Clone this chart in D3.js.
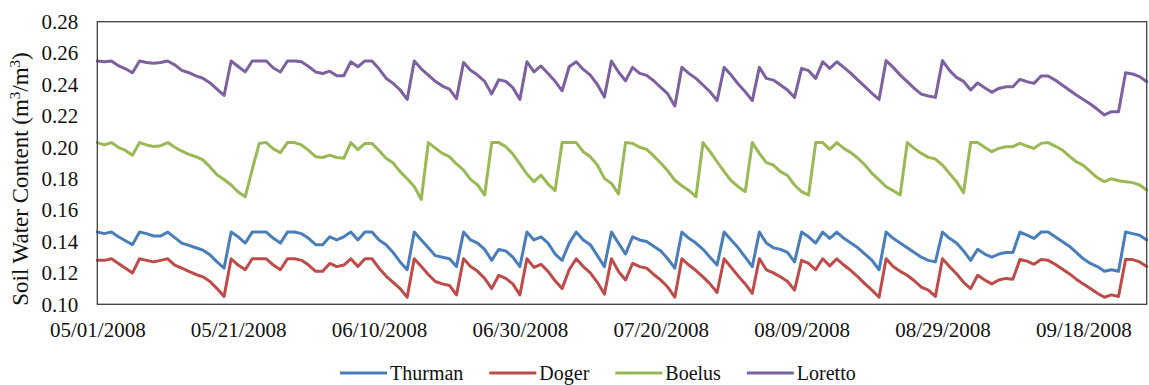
<!DOCTYPE html>
<html>
<head>
<meta charset="utf-8">
<script src="https://cdn.jsdelivr.net/npm/d3@7"></script>
<style>
  html, body { margin: 0; padding: 0; background: #fff; }
  svg { display: block; }
  svg text { font-family: "Liberation Serif", "Times New Roman", Times, Tinos, "DejaVu Serif", serif !important; fill: #111; }
</style>
</head>
<body>
<svg id="chart" width="1149" height="385"></svg>
<script>
// Daily soil water content, 05/01/2008 onward (one value per day)
const firstDay = "05/01/2008";
const xTickLabels = ["05/01/2008", "05/21/2008", "06/10/2008", "06/30/2008",
                     "07/20/2008", "08/09/2008", "08/29/2008", "09/18/2008"];
const yTickValues = [0.10, 0.12, 0.14, 0.16, 0.18, 0.20, 0.22, 0.24, 0.26, 0.28];
const yTitle = "Soil Water Content (m";
const seriesNames = ["Thurman", "Doger", "Boelus", "Loretto"];
const seriesColors = ["#4A7EBB", "#BE4B48", "#98B954", "#7D60A0"];

const thurman = [
  0.146, 0.145, 0.146, 0.143, 0.1405, 0.138, 0.146, 0.145, 0.1435, 0.1435,
  0.146, 0.1425, 0.139, 0.1375, 0.136, 0.1345, 0.1315, 0.127, 0.123, 0.146,
  0.143, 0.139, 0.146, 0.146, 0.146, 0.142, 0.139, 0.146, 0.146, 0.145,
  0.142, 0.138, 0.138, 0.143, 0.141, 0.143, 0.146, 0.141, 0.146, 0.146,
  0.141, 0.138, 0.133, 0.127, 0.122, 0.146, 0.141, 0.136, 0.131, 0.130,
  0.129, 0.124, 0.146, 0.141, 0.139, 0.135, 0.128, 0.135, 0.134, 0.130,
  0.124, 0.146, 0.141, 0.143, 0.139, 0.132, 0.128, 0.139, 0.146, 0.141,
  0.138, 0.131, 0.124, 0.146, 0.139, 0.132, 0.143, 0.141, 0.140, 0.137,
  0.134, 0.129, 0.123, 0.146, 0.142, 0.139, 0.135, 0.130, 0.125, 0.146,
  0.141, 0.136, 0.130, 0.124, 0.146, 0.139, 0.136, 0.135, 0.133, 0.127,
  0.146, 0.143, 0.139, 0.146, 0.142, 0.146, 0.142, 0.139, 0.136, 0.132,
  0.128, 0.122, 0.146, 0.142, 0.139, 0.136, 0.133, 0.130, 0.128, 0.127,
  0.146, 0.142, 0.139, 0.134, 0.128, 0.135, 0.132, 0.130, 0.132, 0.133,
  0.133, 0.146, 0.144, 0.142, 0.146, 0.146, 0.143, 0.140, 0.137, 0.133,
  0.129, 0.126, 0.124, 0.121, 0.122, 0.121, 0.146, 0.145, 0.144, 0.141
];

const doger = [
  0.128, 0.128, 0.129, 0.126, 0.123, 0.120, 0.129, 0.128, 0.127, 0.128,
  0.129, 0.125, 0.123, 0.121, 0.119, 0.1175, 0.1145, 0.110, 0.105, 0.129,
  0.125, 0.122, 0.129, 0.129, 0.129, 0.125, 0.122, 0.129, 0.129, 0.128,
  0.125, 0.121, 0.121, 0.126, 0.124, 0.125, 0.129, 0.124, 0.129, 0.129,
  0.123, 0.118, 0.114, 0.110, 0.1045, 0.129, 0.124, 0.119, 0.1145, 0.113,
  0.112, 0.106, 0.129, 0.124, 0.121, 0.1165, 0.110, 0.1185, 0.1165, 0.113,
  0.106, 0.129, 0.1235, 0.1255, 0.121, 0.115, 0.110, 0.122, 0.129, 0.124,
  0.120, 0.114, 0.1065, 0.129, 0.121, 0.1155, 0.126, 0.124, 0.123, 0.119,
  0.1155, 0.111, 0.1045, 0.129, 0.125, 0.1215, 0.1175, 0.113, 0.1075, 0.129,
  0.1235, 0.118, 0.113, 0.107, 0.129, 0.122, 0.120, 0.1175, 0.1145, 0.109,
  0.128, 0.126, 0.122, 0.129, 0.1245, 0.129, 0.125, 0.1215, 0.1175, 0.113,
  0.109, 0.1045, 0.129, 0.124, 0.121, 0.1185, 0.115, 0.111, 0.109, 0.105,
  0.129, 0.124, 0.1195, 0.114, 0.110, 0.1185, 0.1155, 0.113, 0.1155, 0.1165,
  0.116, 0.1285, 0.1275, 0.1255, 0.1285, 0.128, 0.1255, 0.1225, 0.1195, 0.116,
  0.113, 0.110, 0.107, 0.1045, 0.106, 0.105, 0.1285, 0.1285, 0.127, 0.124
];

const boelus = [
  0.203, 0.2015, 0.203, 0.200, 0.198, 0.195, 0.203, 0.2015, 0.2005, 0.201,
  0.203, 0.200, 0.1975, 0.1955, 0.194, 0.192, 0.1875, 0.1825, 0.1795, 0.176,
  0.1715, 0.1685, 0.186, 0.2025, 0.203, 0.199, 0.1966, 0.203, 0.203, 0.2015,
  0.198, 0.194, 0.1935, 0.195, 0.1935, 0.193, 0.203, 0.1985, 0.2025, 0.2025,
  0.198, 0.193, 0.190, 0.1845, 0.180, 0.175, 0.1668, 0.203, 0.1995, 0.1961,
  0.194, 0.1894, 0.1855, 0.1796, 0.176, 0.1696, 0.203, 0.203, 0.2004, 0.1957,
  0.1894, 0.183, 0.1781, 0.1823, 0.1766, 0.1724, 0.203, 0.203, 0.203, 0.1972,
  0.194, 0.1887, 0.1802, 0.177, 0.1703, 0.203, 0.2025, 0.200, 0.1987, 0.1945,
  0.190, 0.185, 0.179, 0.1755, 0.1725, 0.1685, 0.203, 0.1972, 0.1908, 0.1845,
  0.1787, 0.1749, 0.1717, 0.203, 0.1961, 0.1902, 0.1887, 0.1845, 0.182, 0.176,
  0.1717, 0.1696, 0.203, 0.203, 0.1987, 0.203, 0.1993, 0.1966, 0.193, 0.1887,
  0.1834, 0.1792, 0.1749, 0.1724, 0.1696, 0.203, 0.1993, 0.1961, 0.1936, 0.1925,
  0.1887, 0.1834, 0.1781, 0.1711, 0.203, 0.203, 0.200, 0.1972, 0.1993, 0.2004,
  0.2004, 0.2025, 0.2008, 0.1993, 0.2025, 0.203, 0.2008, 0.1983, 0.1944, 0.1908,
  0.1885, 0.1845, 0.1806, 0.1781, 0.180, 0.1787, 0.1781, 0.1775, 0.176, 0.1728
];

const loretto = [
  0.255, 0.2545, 0.255, 0.252, 0.250, 0.2475, 0.255, 0.254, 0.2535, 0.254,
  0.255, 0.2525, 0.249, 0.2475, 0.2455, 0.244, 0.241, 0.237, 0.233, 0.255,
  0.2515, 0.248, 0.255, 0.255, 0.255, 0.2505, 0.248, 0.255, 0.255, 0.2545,
  0.2515, 0.248, 0.247, 0.2485, 0.2456, 0.2456, 0.2545, 0.2513, 0.255, 0.255,
  0.250, 0.244, 0.2407, 0.2365, 0.2305, 0.255, 0.250, 0.246, 0.242, 0.239,
  0.237, 0.231, 0.254, 0.249, 0.246, 0.242, 0.234, 0.243, 0.242, 0.238,
  0.2305, 0.2545, 0.248, 0.2518, 0.247, 0.242, 0.236, 0.2513, 0.2545, 0.2496,
  0.246, 0.240, 0.232, 0.255, 0.248, 0.2424, 0.2509, 0.2471, 0.2458, 0.2424,
  0.2382, 0.234, 0.2263, 0.2509, 0.2471, 0.2439, 0.2397, 0.2354, 0.2297, 0.2509,
  0.246, 0.2403, 0.2354, 0.2297, 0.2509, 0.2439, 0.2428, 0.2397, 0.2365, 0.2318,
  0.2503, 0.2488, 0.2439, 0.2545, 0.2503, 0.2545, 0.2509, 0.2471, 0.2428, 0.2386,
  0.2344, 0.2305, 0.2552, 0.2509, 0.246, 0.2418, 0.2375, 0.2339, 0.2327, 0.2318,
  0.2552, 0.249, 0.2445, 0.242, 0.2365, 0.241, 0.238, 0.235, 0.2375, 0.2386,
  0.2386, 0.2433, 0.2418, 0.2407, 0.2454, 0.2454, 0.2428, 0.2397, 0.2365, 0.2333,
  0.2305, 0.2276, 0.2242, 0.2206, 0.2227, 0.2227, 0.2475, 0.2467, 0.245, 0.2418
];

const seriesValues = [thurman, doger, boelus, loretto];

// ---- layout ----
const plot = { left: 97.3, right: 1146.7, top: 21.7, bottom: 304.3 };
const serif = "'Liberation Serif', 'Times New Roman', Times, Tinos, 'DejaVu Serif', serif";

const parseDate = d3.timeParse("%m/%d/%Y");
const formatDate = d3.timeFormat("%m/%d/%Y");
const start = parseDate(firstDay);
const dates = d3.range(thurman.length).map(i => d3.timeDay.offset(start, i));

const x = d3.scaleTime()
  .domain([dates[0], dates[dates.length - 1]])
  .range([plot.left, plot.right]);

const y = d3.scaleLinear()
  .domain([yTickValues[0], yTickValues[yTickValues.length - 1]])
  .range([plot.bottom, plot.top]);

const svg = d3.select("#chart");

// y axis labels
const yAxis = d3.axisLeft(y)
  .tickValues(yTickValues)
  .tickFormat(d3.format(".2f"))
  .tickSize(0)
  .tickPadding(19);

svg.append("g")
  .attr("transform", `translate(${plot.left},0)`)
  .call(yAxis)
  .attr("font-family", null)
  .attr("font-size", null)
  .call(g => g.select(".domain").remove())
  .selectAll("text")
  .style("font-family", serif)
  .style("font-size", "21px")
  .attr("fill", "#111");

// x axis labels
const xAxis = d3.axisBottom(x)
  .tickValues(xTickLabels.map(parseDate))
  .tickFormat(formatDate)
  .tickSize(0)
  .tickPadding(18);

svg.append("g")
  .attr("transform", `translate(0,${plot.bottom})`)
  .call(xAxis)
  .attr("font-family", null)
  .attr("font-size", null)
  .call(g => g.select(".domain").remove())
  .selectAll("text")
  .style("font-family", serif)
  .style("font-size", "21px")
  .attr("fill", "#111");

// series lines
const line = d3.line()
  .x((d, i) => x(dates[i]))
  .y(d => y(d));

svg.append("g")
  .selectAll("path")
  .data(seriesValues)
  .join("path")
  .attr("d", line)
  .attr("fill", "none")
  .attr("stroke", (d, i) => seriesColors[i])
  .attr("stroke-width", 3)
  .attr("stroke-linejoin", "round")
  .attr("stroke-linecap", "round");

// plot frame
svg.append("rect")
  .attr("x", plot.left)
  .attr("y", plot.top)
  .attr("width", plot.right - plot.left)
  .attr("height", plot.bottom - plot.top)
  .attr("fill", "none")
  .attr("stroke", "#404040")
  .attr("stroke-width", 1.3);

// y axis title with superscripts
const title = svg.append("text")
  .attr("transform", `translate(28,179) rotate(-90)`)
  .attr("text-anchor", "middle")
  .style("font-family", serif)
  .style("font-size", "23px");
title.append("tspan").text(yTitle);
title.append("tspan").style("font-size", "15px").attr("dy", -8).text("3");
title.append("tspan").attr("dy", 8).text("/m");
title.append("tspan").style("font-size", "15px").attr("dy", -8).text("3");
title.append("tspan").attr("dy", 8).text(")");

// legend along the bottom edge
const legend = svg.append("g").attr("transform", "translate(0,373)");
let lx = 340;
seriesNames.forEach((name, i) => {
  legend.append("line")
    .attr("x1", lx).attr("x2", lx + 47)
    .attr("y1", 0).attr("y2", 0)
    .attr("stroke", seriesColors[i])
    .attr("stroke-width", 3);
  const t = legend.append("text")
    .attr("x", lx + 50)
    .attr("y", 6.5)
    .style("font-family", serif)
    .style("font-size", "20px")
    .text(name);
  lx += 50 + t.node().getComputedTextLength() + 26;
});
</script>
</body>
</html>
